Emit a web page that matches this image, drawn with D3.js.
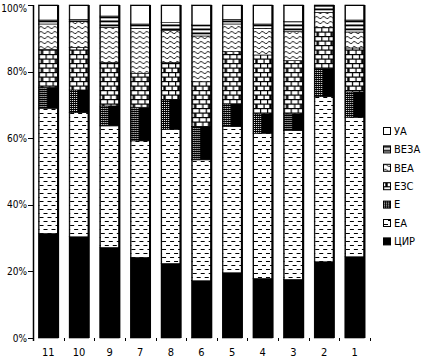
<!DOCTYPE html>
<html>
<head>
<meta charset="utf-8">
<title>Stacked 100% bars</title>
<script src="https://d3js.org/d3.v7.min.js"></script>
<style>
    body { margin: 0; background: #fff; }
    svg { display: block; font-family: "Liberation Sans Narrow", "DejaVu Sans Condensed", "Arial Narrow", sans-serif; font-size: 11px; }
</style>
</head>
<body>
<div id="chart"></div>
<script>
    const categories = ["11", "10", "9", "7", "8", "6", "5", "4", "3", "2", "1"];
    const seriesNames = ["ЦИР", "ЕА", "Е", "ЕЗС", "ВЕА", "ВЕЗА", "УА"];

    const cir  = [31.4, 30.4, 27.2, 24.2, 22.4, 17.2, 19.6, 17.9, 17.6, 22.9, 24.4];
    const ea   = [37.6, 37.3, 36.5, 35.0, 40.3, 36.3, 43.9, 43.6, 44.7, 49.6, 41.9];
    const e    = [6.3, 6.8, 6.0, 10.1, 8.8, 10.0, 6.8, 5.8, 5.0, 8.5, 7.6];
    const ezs  = [11.4, 12.8, 13.0, 10.2, 11.2, 13.5, 15.7, 17.7, 16.0, 12.3, 13.2];
    const vea  = [7.6, 7.7, 10.6, 13.5, 9.6, 13.7, 8.3, 8.0, 8.7, 4.4, 4.8];
    const veza = [1.2, 0.7, 3.4, 1.3, 2.4, 3.3, 1.4, 1.3, 3.0, 2.0, 3.6];
    const ua   = [4.5, 4.3, 3.3, 5.7, 5.3, 6.0, 4.3, 5.7, 5.0, 0.3, 4.5];

    const yTicks = [0, 20, 40, 60, 80, 100];

    const values = [cir, ea, e, ezs, vea, veza, ua];
    const table = categories.map((c, i) => {
        const row = { cat: c };
        seriesNames.forEach((s, k) => row[s] = values[k][i]);
        return row;
    });

    const W = 422, H = 361;
    const x = d3.scaleBand().domain(categories).range([33, 370]).paddingInner(0.36).paddingOuter(0.18);
    const y = d3.scaleLinear().domain([0, 1]).range([338, 5]);
    const bw = x.bandwidth();

    const stack = d3.stack().keys(seriesNames).offset(d3.stackOffsetExpand);
    const layers = stack(table);

    const svg = d3.select("#chart").append("svg")
        .attr("width", W).attr("height", H);

    // fill patterns, one per series
    const defs = svg.append("defs");

    const pEA = defs.append("pattern").attr("id", "p-ЕА")
        .attr("patternUnits", "userSpaceOnUse").attr("width", 8).attr("height", 8);
    pEA.append("rect").attr("width", 8).attr("height", 8).attr("fill", "#fff");
    pEA.append("rect").attr("x", 1).attr("y", 1).attr("width", 4).attr("height", 1).attr("fill", "#000");
    pEA.append("rect").attr("x", 5).attr("y", 5).attr("width", 4).attr("height", 1).attr("fill", "#000");
    pEA.append("rect").attr("x", -3).attr("y", 5).attr("width", 4).attr("height", 1).attr("fill", "#000");

    const pE = defs.append("pattern").attr("id", "p-Е")
        .attr("patternUnits", "userSpaceOnUse").attr("width", bw).attr("height", 2);
    pE.append("rect").attr("width", bw).attr("height", 2).attr("fill", "#000");
    d3.range(1, bw * 0.42, 2).forEach(px => {
        pE.append("rect").attr("x", px).attr("y", 0).attr("width", 1).attr("height", 1).attr("fill", "#fff");
    });

    // bricks: white blocks on black mortar
    const pEZS = defs.append("pattern").attr("id", "p-ЕЗС")
        .attr("patternUnits", "userSpaceOnUse").attr("width", 14).attr("height", 9);
    pEZS.append("rect").attr("width", 14).attr("height", 9).attr("fill", "#000");
    [[1.2, 1.2, 5.8], [8.2, 1.2, 5.8], [0, 5.7, 2.3], [4.7, 5.7, 5.8], [11.7, 5.7, 2.3]].forEach(b => {
        pEZS.append("rect").attr("x", b[0]).attr("y", b[1]).attr("width", b[2]).attr("height", 3.3).attr("fill", "#fff");
    });

    const pVEA = defs.append("pattern").attr("id", "p-ВЕА")
        .attr("patternUnits", "userSpaceOnUse").attr("width", 7).attr("height", 5);
    pVEA.append("rect").attr("width", 7).attr("height", 5).attr("fill", "#fff");
    pVEA.append("path").attr("d", "M0,3.5 Q1.75,0 3.5,2 T7,3.5")
        .attr("fill", "none").attr("stroke", "#000").attr("stroke-width", 0.9);

    const pVEZA = defs.append("pattern").attr("id", "p-ВЕЗА")
        .attr("patternUnits", "userSpaceOnUse").attr("width", 4).attr("height", 4);
    pVEZA.append("rect").attr("width", 4).attr("height", 4).attr("fill", "#fff");
    pVEZA.append("rect").attr("y", 0.5).attr("width", 4).attr("height", 1.8).attr("fill", "#000");

    const fill = s => s === "ЦИР" ? "#000" : s === "УА" ? "#fff" : `url(#p-${s})`;

    // bars
    const bars = svg.append("g").selectAll("g")
        .data(categories)
        .join("g")
        .attr("transform", c => `translate(${x(c)},0)`);

    bars.selectAll("rect.seg")
        .data((c, i) => layers.map(l => ({ key: l.key, d: l[i] })))
        .join("rect")
        .attr("class", "seg")
        .attr("x", 0)
        .attr("width", bw)
        .attr("y", s => y(s.d[1]))
        .attr("height", s => y(s.d[0]) - y(s.d[1]))
        .attr("fill", s => fill(s.key))
        .attr("stroke", "#000")
        .attr("stroke-width", 0.6);

    bars.append("rect")
        .attr("x", 0.5).attr("y", y(1) + 0.5)
        .attr("width", bw - 1).attr("height", y(0) - y(1) - 1)
        .attr("fill", "none").attr("stroke", "#000").attr("stroke-width", 1);
    bars.append("line")
        .attr("x1", bw).attr("x2", bw).attr("y1", y(1)).attr("y2", y(0))
        .attr("stroke", "#000").attr("stroke-width", 2);

    // y axis
    const yAxis = svg.append("g").attr("transform", "translate(33,0)");
    yAxis.append("line").attr("x1", 0.5).attr("x2", 0.5).attr("y1", y(1)).attr("y2", y(0) + 3)
        .attr("stroke", "#000").attr("stroke-width", 1.5);
    yAxis.selectAll("line.tick").data(yTicks).join("line").attr("class", "tick")
        .attr("x1", -5).attr("x2", 0)
        .attr("y1", t => Math.round(y(t / 100)) + 0.5).attr("y2", t => Math.round(y(t / 100)) + 0.5)
        .attr("stroke", "#000");
    yAxis.selectAll("text").data(yTicks).join("text")
        .attr("x", -6).attr("y", t => Math.max(y(t / 100), 8))
        .attr("dy", "0.35em").attr("text-anchor", "end")
        .style("font-size", "10px")
        .text(t => t + "%");

    // x ticks between bars and labels
    const step = x.step();
    const tickX = categories.map(c => x(c) + bw + step * x.paddingInner() / 2);
    svg.append("g").selectAll("line").data(tickX).join("line")
        .attr("x1", t => Math.round(t) + 0.5).attr("x2", t => Math.round(t) + 0.5)
        .attr("y1", y(0)).attr("y2", y(0) + 3)
        .attr("stroke", "#000");
    svg.append("g").selectAll("text").data(categories).join("text")
        .attr("x", c => x(c) + bw / 2).attr("y", 356)
        .attr("text-anchor", "middle")
        .text(c => c);

    // legend, top item is the last series
    const legend = svg.append("g").attr("transform", "translate(383,131)");
    const items = legend.selectAll("g").data(seriesNames.slice().reverse()).join("g")
        .attr("transform", (s, i) => `translate(0,${i * 18.4})`);
    items.append("rect")
        .attr("x", 0.5).attr("y", -3.5).attr("width", 7).attr("height", 7)
        .attr("fill", s => fill(s)).attr("stroke", "#000");
    items.append("text")
        .attr("x", 11).attr("y", 0).attr("dy", "0.35em")
        .text(s => s);
</script>
</body>
</html>
